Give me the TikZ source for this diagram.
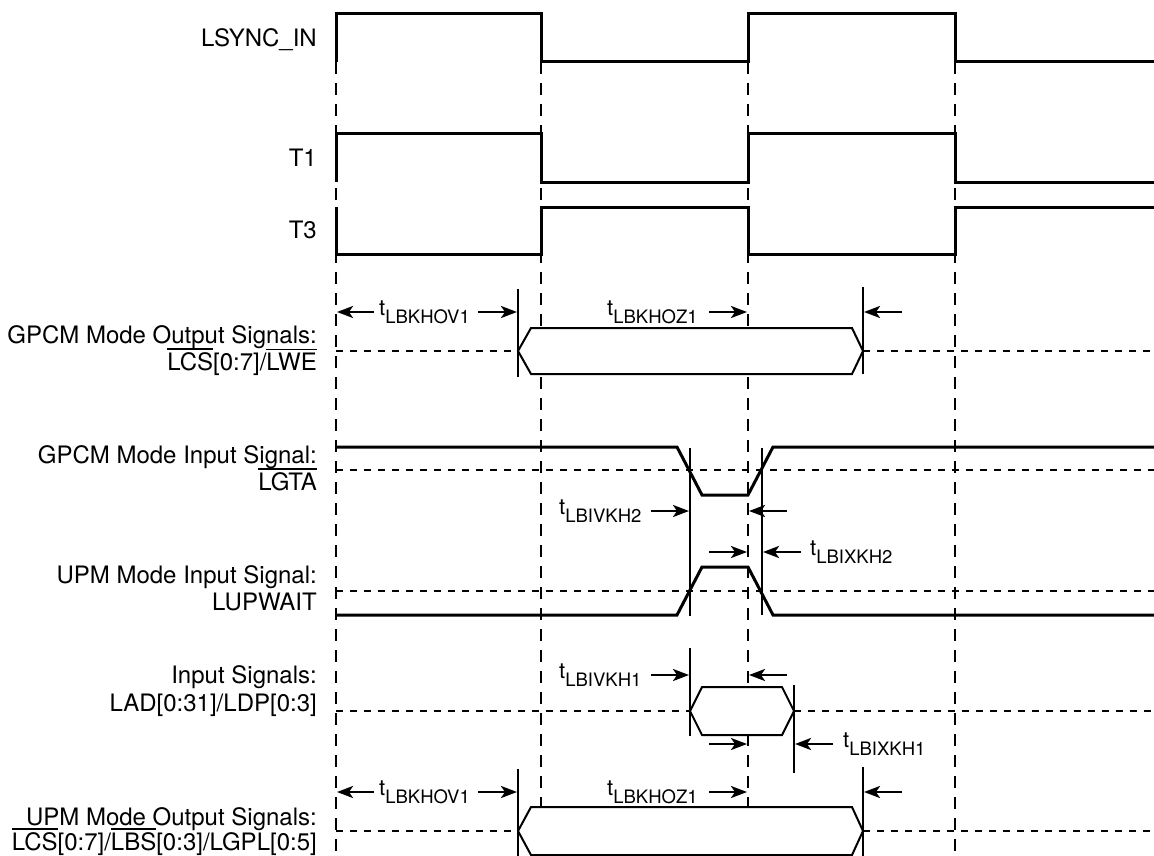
\documentclass[tikz,border=0pt]{standalone}
\usepackage{fontspec}
\setmainfont{TeX Gyre Heros}
\usetikzlibrary{arrows.meta}
\newcommand{\ovl}[1]{\vbox{\hrule height 1.6pt\kern 2.4pt\hbox{#1}}}
\newcommand{\tsub}[1]{{\fontsize{22}{22}\selectfont t}\raisebox{-8pt}{\fontsize{18.5}{18.5}\selectfont #1}}
\tikzset{
  wave/.style={line width=3pt, line join=miter},
  bus/.style={line width=2pt, fill=white, line join=miter},
  tick/.style={line width=2.4pt},
  vdash/.style={line width=2.6pt, dash pattern=on 12pt off 9pt},
  hdash/.style={line width=2.2pt, dash pattern=on 7pt off 7pt},
  arr/.style={line width=2.4pt, -{Stealth[length=16pt,width=12pt,inset=4pt]}},
  lbl/.style={anchor=base east, inner sep=0pt, font=\fontsize{24}{27}\selectfont},
  tl/.style={anchor=base west, inner sep=0pt},
}
\begin{document}
\begin{tikzpicture}[x=1pt,y=-1pt]
\useasboundingbox (0,0) rectangle (1154,856);
% clock edge guide lines
\foreach \x/\n in {336/a,541/b,748/c,955/d}{
  \coordinate (g\n top) at (\x,62);
  \coordinate (g\n bot) at (\x,856);
  \draw[vdash] (g\n top) -- (g\n bot);
}
% mid-level dashed lines
\draw[hdash] (336,351) -- (518,351);
\draw[hdash] (863,351) -- (1154,351);
\draw[hdash] (336,470) -- (1154,470);
\draw[hdash] (336,591) -- (1154,591);
\draw[hdash] (336,711) -- (690,711);
\draw[hdash] (794,711) -- (1154,711);
\draw[hdash] (336,831) -- (518,831);
\draw[hdash] (863,831) -- (1154,831);
% clocks
\draw[wave] (336,62) -- (336,14) -- (541,14) -- (541,62) -- (748,62) -- (748,14) -- (955,14) -- (955,62) -- (1154,62);
\draw[wave] (336,182) -- (336,134) -- (541,134) -- (541,182) -- (748,182) -- (748,134) -- (955,134) -- (955,182) -- (1154,182);
\draw[wave] (336,207) -- (336,254) -- (541,254) -- (541,207) -- (748,207) -- (748,254) -- (955,254) -- (955,207) -- (1154,207);
% GPCM output bus
\draw[bus] (518,351) -- (531,328) -- (852,328) -- (863,351) -- (852,374) -- (531,374) -- cycle;
\draw[tick] (518,289) -- (518,377);
\draw[tick] (863,287) -- (863,374);
% LGTA and LUPWAIT
\draw[wave] (336,447) -- (677,447) -- (702,495) -- (748,495) -- (773,447) -- (1154,447);
\draw[wave] (336,615) -- (677,615) -- (702,567) -- (748,567) -- (773,615) -- (1154,615);
\draw[tick] (690,448) -- (690,616);
\draw[tick] (762,448) -- (762,615);
% input data bus
\draw[bus] (690,711) -- (702,687) -- (782,687) -- (794,711) -- (782,735) -- (702,735) -- cycle;
\draw[tick] (690,648) -- (690,736);
\draw[tick] (794,685) -- (794,773);
% UPM output bus
\draw[bus] (518,831) -- (531,807) -- (852,807) -- (863,831) -- (852,855) -- (531,855) -- cycle;
\draw[tick] (518,769) -- (518,856);
\draw[tick] (863,767) -- (863,856);
% timing arrows
\draw[arr] (374,312) -- (337,312);
\draw[arr] (478,312) -- (517,312);
\draw[arr] (709,312) -- (747,312);
\draw[arr] (902,312) -- (864,312);
\draw[arr] (651,511) -- (689,511);
\draw[arr] (787,511) -- (749,511);
\draw[arr] (709,552) -- (747,552);
\draw[arr] (801,552) -- (763,552);
\draw[arr] (651,675) -- (689,675);
\draw[arr] (787,675) -- (749,675);
\draw[arr] (709,744) -- (747,744);
\draw[arr] (833,744) -- (795,744);
\draw[arr] (374,792) -- (337,792);
\draw[arr] (478,792) -- (517,792);
\draw[arr] (709,792) -- (747,792);
\draw[arr] (902,792) -- (864,792);
% timing labels
\node[tl] (ov1a) at (379,315) {\tsub{LBKHOV1}};
\node[tl] (oz1a) at (607,315) {\tsub{LBKHOZ1}};
\node[tl] (ivk2) at (559,514) {\tsub{LBIVKH2}};
\node[tl] (ixk2) at (810,555) {\tsub{LBIXKH2}};
\node[tl] (ivk1) at (559,678) {\tsub{LBIVKH1}};
\node[tl] (ixk1) at (843,747) {\tsub{LBIXKH1}};
\node[tl] (ov1b) at (379,795) {\tsub{LBKHOV1}};
\node[tl] (oz1b) at (607,795) {\tsub{LBKHOZ1}};
% signal labels
\node[lbl] (l1) at (317,47) {LSYNC\_IN};
\node[lbl] (l2) at (317,167) {T1};
\node[lbl] (l3) at (317,238) {T3};
\node[lbl] (l4a) at (317,343) {GPCM Mode Output Signals:};
\node[lbl] (l4b) at (317,370) {\ovl{LCS}[0:7]/\ovl{LWE}};
\node[lbl] (l5a) at (317,463) {GPCM Mode Input Signal:};
\node[lbl] (l5b) at (317,490) {\ovl{LGTA}};
\node[lbl] (l6a) at (317,583) {UPM Mode Input Signal:};
\node[lbl] (l6b) at (317,610) {LUPWAIT};
\node[lbl] (l7a) at (317,683) {Input Signals:};
\node[lbl] (l7b) at (317,711) {LAD[0:31]/LDP[0:3]};
\node[lbl] (l8a) at (317,825) {UPM Mode Output Signals:};
\node[lbl] (l8b) at (317,850) {\ovl{LCS}[0:7]/\ovl{LBS}[0:3]/LGPL[0:5]};
\end{tikzpicture}
\end{document}
